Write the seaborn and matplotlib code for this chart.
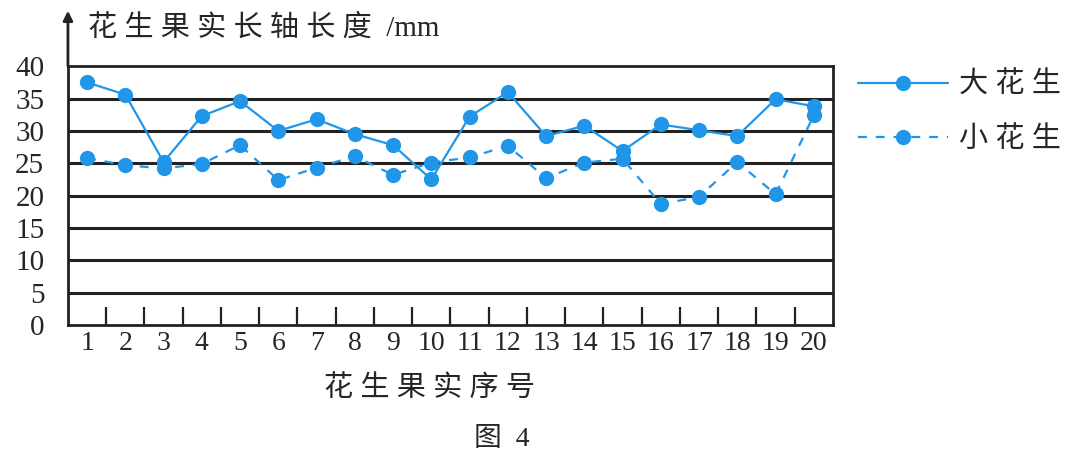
import matplotlib
matplotlib.use("Agg")
import matplotlib.pyplot as plt
import numpy as np
import pandas as pd
import seaborn as sns
from matplotlib.lines import Line2D

# values (mm)
sample_ids = list(range(1, 21))
big_peanut = [37.5, 35.6, 25.2, 32.3, 34.6, 30.0, 31.8, 29.5, 27.8, 22.5,
              32.2, 36.0, 29.2, 30.8, 26.9, 31.0, 30.1, 29.2, 34.9, 33.8]
small_peanut = [25.8, 24.7, 24.2, 24.9, 27.8, 22.4, 24.3, 26.1, 23.2, 25.1,
                25.9, 27.7, 22.7, 25.1, 25.7, 18.7, 19.8, 25.2, 20.2, 32.4]
series_names = ["大 花 生", "小 花 生"]
y_ticks = [0, 5, 10, 15, 20, 25, 30, 35, 40]

df = pd.DataFrame({
    "序号": sample_ids * 2,
    "长度": big_peanut + small_peanut,
    "品种": [series_names[0]] * 20 + [series_names[1]] * 20,
})

sns.set_style("white")
plt.rcParams["font.family"] = ["Liberation Serif", "Noto Sans CJK SC", "DejaVu Sans"]

blue = "#2196e8"
ink = "#222222"
fig = plt.figure(figsize=(10.82, 4.63), dpi=100)
ax = fig.add_axes([0.0628, 0.298, 0.707, 0.559])

sns.lineplot(data=df, x="序号", y="长度", hue="品种", style="品种",
             palette=[blue, blue], dashes=[(None, None), (4, 4)],
             markers=["o", "o"], markersize=11, markeredgewidth=0,
             linewidth=1.6, ax=ax, legend=False, zorder=3)

ax.set_xlim(0.5, 20.5)
ax.set_ylim(0, 40)
ax.set_yticks(y_ticks)
ax.set_yticklabels([str(v) for v in y_ticks], fontsize=21)
ax.set_xticks(sample_ids)
ax.set_xticklabels([str(v) for v in sample_ids], fontsize=20)
ax.tick_params(axis="x", which="major", length=0, pad=4)
ax.tick_params(axis="y", which="major", length=0, pad=17)
ax.set_xticks(np.arange(1.5, 20, 1), minor=True)
ax.tick_params(axis="x", which="minor", bottom=True, direction="in",
               length=13, width=1.6, color=ink)
for v in y_ticks[1:-1]:
    ax.axhline(v, color=ink, linewidth=2.2, zorder=1)
for s in ax.spines.values():
    s.set_color(ink)
    s.set_linewidth(2)
ax.set_xlabel("")
ax.set_ylabel("")

# left axis arrow extending above the frame
ax.annotate("", xy=(0, 1.225), xytext=(0, 0.99), xycoords="axes fraction",
            arrowprops=dict(arrowstyle="-|>", color=ink, lw=2, mutation_scale=14),
            annotation_clip=False)

fig.text(0.081, 0.94, "花 生 果 实 长 轴 长 度  /mm", fontsize=21, va="center")
fig.text(0.397, 0.162, "花 生 果 实 序 号", fontsize=21, ha="center", va="center")
fig.text(0.464, 0.05, "图  4", fontsize=20, ha="center", va="center")

handles = [
    Line2D([], [], color=blue, linestyle="-", marker="o", markersize=11,
           markeredgewidth=0, linewidth=1.6),
    Line2D([], [], color=blue, linestyle=(0, (4, 4)), marker="o", markersize=11,
           markeredgewidth=0, linewidth=1.6),
]
fig.legend(handles, series_names, loc="upper left", bbox_to_anchor=(0.793, 0.845),
           frameon=False, handlelength=3.1, handletextpad=0.35, labelspacing=0.95,
           borderpad=0, borderaxespad=0, prop={"size": 21})

fig.savefig("out.png", dpi=100)
